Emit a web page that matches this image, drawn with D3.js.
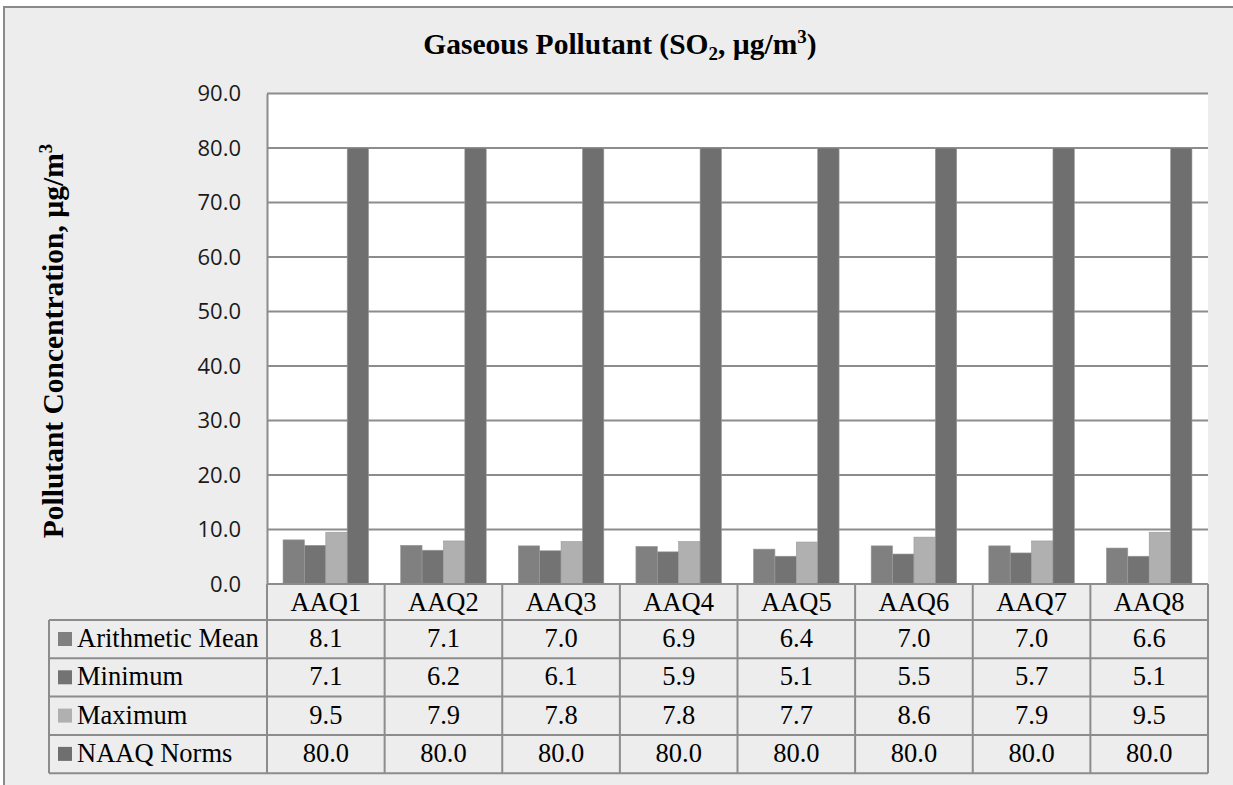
<!DOCTYPE html>
<html><head><meta charset="utf-8">
<script src="https://cdn.jsdelivr.net/npm/d3@7"></script>
<style>body{margin:0;background:#fff;}svg{display:block;}</style>
</head><body>
<script>
const categories = ["AAQ1","AAQ2","AAQ3","AAQ4","AAQ5","AAQ6","AAQ7","AAQ8"];
const seriesNames = ["Arithmetic Mean","Minimum","Maximum","NAAQ Norms"];
const arithmeticMean = [8.1,7.1,7.0,6.9,6.4,7.0,7.0,6.6];
const minimum = [7.1,6.2,6.1,5.9,5.1,5.5,5.7,5.1];
const maximum = [9.5,7.9,7.8,7.8,7.7,8.6,7.9,9.5];
const naaqNorms = [80.0,80.0,80.0,80.0,80.0,80.0,80.0,80.0];
const yTicks = [0,10,20,30,40,50,60,70,80,90];
const colors = ["#808080","#737373","#b0b0b0","#6f6f6f"];

const series = [arithmeticMean, minimum, maximum, naaqNorms];
const W = 1233, H = 785;
const svg = d3.select("body").append("svg").attr("width", W).attr("height", H);

// outer frame
svg.append("rect").attr("x",4).attr("y",7).attr("width",1400).attr("height",1000)
  .attr("fill","#ededed").attr("stroke","#8a8a8a").attr("stroke-width",2);

const pl = 267, pr = 1208, pt = 93.5, pb = 584;
const x = d3.scaleBand().domain(categories).range([pl, pr]).paddingInner(0).paddingOuter(0);
const y = d3.scaleLinear().domain([0, 90]).range([pb, pt]);
// gap width 150%: total = 4w + 1.5w
const bw = x.bandwidth() / 5.5;

// plot area
svg.append("rect").attr("x",pl).attr("y",pt).attr("width",pr-pl).attr("height",pb-pt).attr("fill","#ffffff");

// gridlines
svg.append("g").selectAll("line").data(yTicks.filter(d=>d>0)).join("line")
  .attr("x1",pl).attr("x2",pr).attr("y1",d=>y(d)).attr("y2",d=>y(d))
  .attr("stroke","#8c8c8c").attr("stroke-width",2);

// bars
const g = svg.append("g");
series.forEach((vals, si) => {
  g.selectAll(null).data(vals).join("rect")
    .attr("x",(d,i)=> x(categories[i]) + 0.75*bw + si*bw)
    .attr("y", d => y(d))
    .attr("width", bw)
    .attr("height", d => y(0) - y(d))
    .attr("fill", colors[si])
    .attr("stroke","#9a9a9a").attr("stroke-width",0.6);
});

// y axis
const yAxis = d3.axisLeft(y).tickValues(yTicks).tickFormat(d3.format(".1f")).tickSize(0).tickPadding(26);
const ya = svg.append("g").attr("transform",`translate(${pl},0)`).call(yAxis);
ya.select(".domain").attr("stroke","#8c8c8c").attr("stroke-width",2);
ya.selectAll("text").attr("font-family","'Open Sans', sans-serif").attr("font-size",22).attr("fill","#1a1a1a");

// table
const tableTop = pb, headerH = 36, rowH = 38.3, legL = 49;
const tf = "'Liberation Serif','Times New Roman',serif";
const fs = 26.5;
const lineC = "#8c8c8c";
const tg = svg.append("g");
// header row category cells
tg.selectAll(".hdr").data(categories).join("text")
  .attr("x", d => x(d) + x.bandwidth()/2).attr("y", tableTop + 27)
  .attr("text-anchor","middle").attr("font-family",tf).attr("font-size",fs).attr("fill","#000")
  .text(d=>d);
// horizontal lines
const hy = [0,1,2,3,4].map(i => tableTop + headerH + i*rowH);
tg.selectAll(".hl").data(hy).join("line")
  .attr("x1",legL).attr("x2",pr).attr("y1",d=>d).attr("y2",d=>d)
  .attr("stroke",lineC).attr("stroke-width",2);
svg.append("line").attr("x1",pl).attr("x2",pr).attr("y1",pb).attr("y2",pb).attr("stroke",lineC).attr("stroke-width",2);
// vertical lines
const vx = categories.map(c => x(c)).concat([pr]);
tg.selectAll(".vl").data(vx).join("line")
  .attr("x1",d=>d).attr("x2",d=>d).attr("y1",tableTop).attr("y2",hy[4])
  .attr("stroke",lineC).attr("stroke-width",2);
tg.append("line").attr("x1",legL).attr("x2",legL).attr("y1",hy[0]).attr("y2",hy[4])
  .attr("stroke",lineC).attr("stroke-width",2);
// rows
seriesNames.forEach((name, si) => {
  const ry = hy[si];
  tg.append("rect").attr("x",58).attr("y",ry + 12).attr("width",14).attr("height",14).attr("fill",colors[si]);
  tg.append("text").attr("x",77).attr("y",ry + 27).attr("font-family",tf).attr("font-size",fs).attr("fill","#000").text(name);
  tg.selectAll(null).data(series[si]).join("text")
    .attr("x",(d,i)=> x(categories[i]) + x.bandwidth()/2).attr("y", ry + 27)
    .attr("text-anchor","middle").attr("font-family",tf).attr("font-size",fs).attr("fill","#000")
    .text(d => d3.format(".1f")(d));
});

// title
const title = svg.append("text").attr("x",620).attr("y",54).attr("text-anchor","middle")
  .attr("font-family",tf).attr("font-weight","bold").attr("font-size",29.5).attr("fill","#000");
title.append("tspan").text("Gaseous Pollutant (SO");
title.append("tspan").attr("font-size",19).attr("dy",6).text("2");
title.append("tspan").attr("dy",-6).text(", µg/m");
title.append("tspan").attr("font-size",19).attr("dy",-11).text("3");
title.append("tspan").attr("dy",11).text(")");

// y title
const yt = svg.append("text").attr("transform","translate(63,341) rotate(-90)").attr("text-anchor","middle")
  .attr("font-family",tf).attr("font-weight","bold").attr("font-size",29.5).attr("fill","#000");
yt.append("tspan").text("Pollutant Concentration, µg/m");
yt.append("tspan").attr("font-size",19).attr("dy",-11).text("3");
</script>
</body></html>
